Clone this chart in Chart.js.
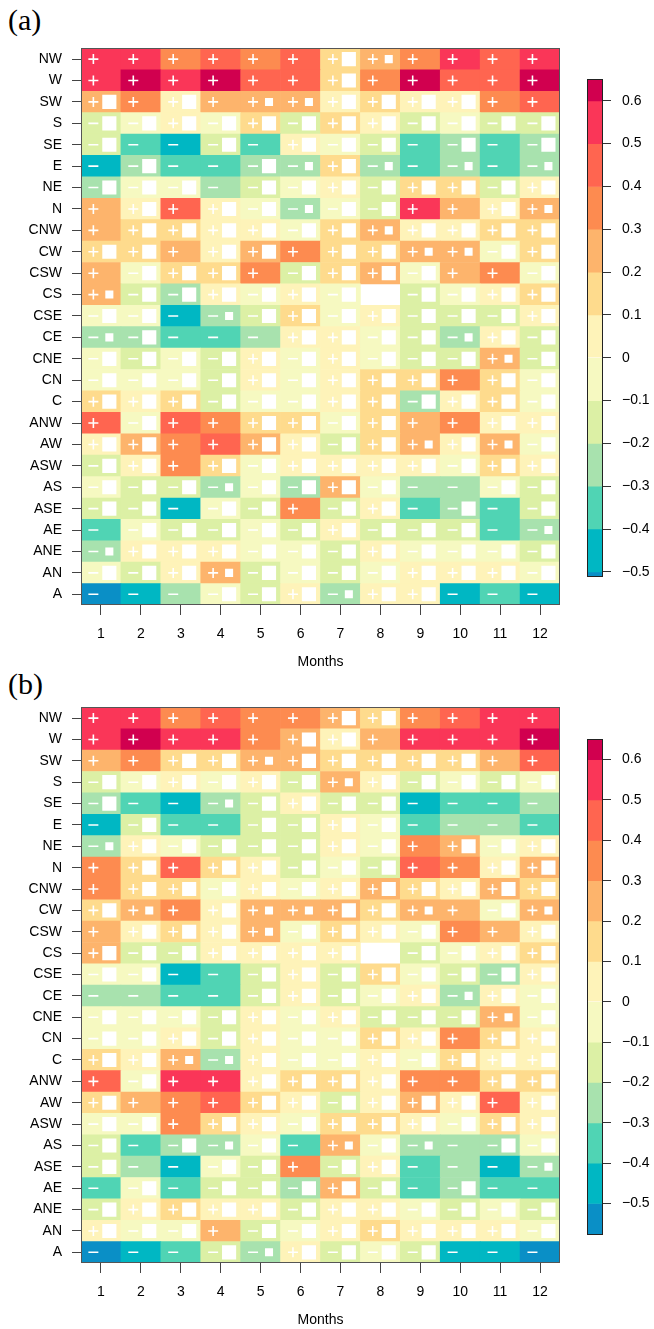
<!DOCTYPE html>
<html>
<head>
<meta charset="utf-8">
<script src="https://cdn.jsdelivr.net/npm/chart.js@4.4.0/dist/chart.umd.min.js"></script>
<style>
  html, body { margin: 0; padding: 0; background: #fff; overflow: hidden; }
  body { width: 654px; height: 1329px; position: relative; }
  canvas { position: absolute; }
  .tag { position: absolute; left: 8px; font-family: 'Liberation Serif', 'Times New Roman', serif; font-size: 30px; line-height: 1; color: #000; }
</style>
</head>
<body>
<div class="tag" style="top:5px">(a)</div>
<div class="tag" style="top:669px">(b)</div>
<canvas id="heatA" width="570" height="641" style="left:0;top:30px"></canvas>
<canvas id="barA" width="84" height="540" style="left:570px;top:60px"></canvas>
<canvas id="heatB" width="570" height="640" style="left:0;top:689px"></canvas>
<canvas id="barB" width="84" height="540" style="left:570px;top:720px"></canvas>
<script>
// weather types, top row first
const types = ['NW','W','SW','S','SE','E','NE','N','CNW','CW','CSW','CS','CSE','CE','CNE','CN','C','ANW','AW','ASW','AS','ASE','AE','ANE','AN','A'];
const months = [1,2,3,4,5,6,7,8,9,10,11,12];

// correlation values
const valuesA = [
  [0.55,0.55,0.35,0.45,0.35,0.45,0.15,0.25,0.35,0.55,0.45,0.55],
  [0.55,0.62,0.55,0.62,0.45,0.45,0.15,0.35,0.62,0.45,0.45,0.62],
  [0.25,0.35,0.05,0.25,0.25,0.25,0.05,0.15,0.05,0.05,0.35,0.45],
  [-0.15,-0.05,0.05,-0.05,0.15,-0.15,0.15,0.05,-0.15,-0.05,-0.15,-0.15],
  [-0.15,-0.35,-0.45,-0.15,-0.35,0.05,-0.05,-0.15,-0.35,-0.25,-0.35,-0.25],
  [-0.45,-0.25,-0.35,-0.35,-0.25,-0.25,0.15,-0.25,-0.35,-0.25,-0.35,-0.25],
  [-0.25,-0.05,-0.05,-0.25,-0.15,-0.05,0.05,-0.15,0.15,0.15,-0.15,0.05],
  [0.25,0.05,0.45,0.05,-0.05,-0.25,-0.05,-0.15,0.55,0.25,0.05,0.25],
  [0.25,0.15,0.15,0.05,0.05,-0.05,0.15,0.25,0.05,0.05,0.15,0.15],
  [0.15,0.15,0.25,0.05,0.25,0.35,0.15,0.15,0.25,0.25,-0.05,0.15],
  [0.25,-0.05,0.15,0.15,0.35,-0.15,0.15,0.25,-0.05,0.25,0.35,-0.05],
  [0.25,-0.15,-0.25,0.05,-0.05,0.05,-0.05,null,-0.15,-0.05,0.05,0.15],
  [-0.05,-0.05,-0.45,-0.25,-0.15,0.15,-0.05,0.05,-0.15,-0.15,-0.15,0.05],
  [-0.25,-0.25,-0.35,-0.35,-0.25,0.05,0.05,-0.05,-0.15,-0.25,0.05,-0.15],
  [-0.05,-0.15,-0.05,-0.15,0.05,-0.05,0.05,-0.05,-0.15,-0.15,0.25,-0.15],
  [-0.05,-0.05,-0.05,-0.15,0.05,-0.05,0.05,0.15,0.15,0.35,0.15,-0.05],
  [0.15,0.05,0.15,-0.15,-0.05,-0.05,0.05,0.15,-0.25,0.05,0.15,-0.05],
  [0.45,-0.05,0.45,0.35,0.15,0.15,-0.05,0.15,0.25,0.35,0.05,0.05],
  [0.05,0.25,0.35,0.45,0.25,0.05,-0.15,0.15,0.25,0.05,0.25,-0.05],
  [-0.15,0.05,0.35,0.15,-0.05,0.05,0.05,0.05,0.05,-0.05,0.15,0.05],
  [-0.05,-0.15,-0.15,-0.25,-0.05,-0.25,0.25,-0.05,-0.25,-0.25,-0.05,-0.15],
  [-0.15,-0.15,-0.45,-0.05,-0.15,0.35,-0.15,0.05,-0.35,-0.25,-0.35,-0.15],
  [-0.35,-0.05,-0.15,-0.15,-0.05,-0.15,0.05,-0.15,-0.15,-0.15,-0.35,-0.25],
  [-0.25,0.05,0.05,0.05,-0.05,-0.05,-0.15,0.05,-0.05,-0.05,-0.05,-0.15],
  [-0.05,-0.15,0.05,0.25,-0.15,-0.05,-0.15,-0.05,0.05,0.05,0.05,-0.05],
  [-0.52,-0.45,-0.25,-0.05,-0.15,0.05,-0.25,0.05,0.05,-0.45,-0.35,-0.45]
];
// significance: 0 = significant, 1 = small square, 2 = large square
const signifA = [
  '000000210000','000000200000','202011222200','222222222222','200202220202',
  '020021210101','222022222222','020221220021','022222212222','220220221122',
  '022202222002','122222202222','220122222222','120002222122','222222222212',
  '222222222022','222222222222','020022220022','220022221212','220222222222',
  '222122220022','220220220202','022222222201','122222222222','222122222222',
  '000222122000'
];

// correlation values
const valuesB = [
  [0.55,0.55,0.35,0.45,0.35,0.35,0.25,0.15,0.35,0.45,0.55,0.55],
  [0.55,0.62,0.55,0.55,0.35,0.25,0.05,0.25,0.55,0.55,0.55,0.62],
  [0.25,0.35,0.15,0.15,0.25,0.25,0.15,0.15,0.15,0.15,0.25,0.45],
  [-0.15,-0.05,0.05,-0.05,0.05,-0.15,0.25,0.05,-0.15,-0.05,-0.15,-0.05],
  [-0.25,-0.35,-0.45,-0.25,-0.15,0.05,-0.15,-0.15,-0.45,-0.35,-0.35,-0.25],
  [-0.45,-0.15,-0.35,-0.35,-0.15,-0.15,0.05,-0.05,-0.35,-0.25,-0.25,-0.35],
  [-0.25,0.05,-0.05,-0.15,-0.15,-0.15,0.05,-0.05,0.35,0.25,-0.05,0.05],
  [0.35,0.15,0.45,0.15,0.05,-0.15,-0.05,-0.15,0.45,0.35,0.05,0.25],
  [0.35,0.15,0.15,-0.05,0.05,-0.05,0.05,0.25,0.15,0.05,0.25,0.15],
  [0.15,0.25,0.35,0.05,0.25,0.25,0.25,0.15,0.25,0.25,-0.05,0.25],
  [0.25,0.05,0.15,0.05,0.25,-0.05,0.15,0.05,-0.05,0.35,0.25,0.05],
  [0.25,-0.15,-0.15,0.05,0.05,0.05,0.05,null,-0.15,-0.05,0.05,0.15],
  [-0.05,-0.05,-0.45,-0.35,-0.15,0.05,-0.15,0.15,-0.05,-0.15,-0.25,0.05],
  [-0.25,-0.25,-0.35,-0.35,-0.15,0.05,-0.15,-0.05,0.05,-0.25,0.05,-0.05],
  [-0.05,-0.05,-0.05,-0.15,0.05,-0.05,0.05,-0.15,-0.15,-0.15,0.25,-0.05],
  [-0.05,-0.05,0.05,-0.15,0.05,-0.05,-0.05,0.15,0.05,0.35,0.15,0.05],
  [0.15,0.05,0.25,-0.25,0.05,-0.05,-0.05,0.05,-0.05,0.15,0.05,0.05],
  [0.45,-0.05,0.55,0.55,0.05,0.15,0.15,0.05,0.35,0.35,0.15,0.15],
  [0.15,0.25,0.35,0.45,0.15,0.05,-0.15,0.05,0.25,0.05,0.45,0.05],
  [-0.05,-0.05,0.35,0.15,0.05,-0.05,0.15,0.15,0.05,-0.05,0.15,0.05],
  [-0.15,-0.35,-0.25,-0.25,-0.05,-0.35,0.25,-0.05,-0.25,-0.25,-0.25,-0.05],
  [-0.15,-0.25,-0.45,-0.05,-0.15,0.35,-0.15,0.05,-0.35,-0.25,-0.45,-0.25],
  [-0.35,-0.05,-0.35,-0.15,-0.15,-0.25,0.25,-0.15,-0.35,-0.25,-0.35,-0.35],
  [-0.15,0.05,0.15,0.05,0.05,-0.15,0.05,0.05,-0.05,-0.15,-0.05,-0.15],
  [0.05,-0.05,-0.05,0.25,-0.15,-0.05,0.05,0.15,0.05,0.05,0.05,-0.05],
  [-0.55,-0.45,-0.35,-0.15,-0.25,0.05,-0.15,-0.05,-0.15,-0.45,-0.45,-0.55]
];
const signifB = [
  '000000220000','000002200000','002212222200','222222122222','200122220000',
  '020022220000','122222220222','020222220022','022222222222','210211221021',
  '022212222002','222222202222','220022222222','000022222122','222222222212',
  '222222222022','221122222222','020022220022','200022222202','220222222222',
  '202120121022','200220220001','020222220200','222222222222','222022222222',
  '000212222000'
];

// colour key
const breaks = [-0.5,-0.4,-0.3,-0.2,-0.1,0,0.1,0.2,0.3,0.4,0.5,0.6];
const palette = ['#0a8fc6','#00b7c3','#50d4b4','#a8e2ae','#dcf0a5','#f6f9c1','#fef3b9','#fedb8d','#fdb46c','#fd8b50','#ff6550','#fa3658','#d1004f'];
const keyTicks = [-0.5,-0.4,-0.3,-0.2,-0.1,0,0.1,0.2,0.3,0.4,0.5,0.6];

Chart.defaults.font.family = "'Liberation Sans', Arial, sans-serif";
Chart.defaults.color = '#000';

function cellColor(v) {
  let k = 0;
  while (k < breaks.length && v >= breaks[k]) k++;
  return palette[k];
}

function frame(color) {
  return {
    id: 'frame',
    afterDraw(chart) {
      const a = chart.chartArea, ctx = chart.ctx;
      ctx.save();
      ctx.strokeStyle = color;
      ctx.lineWidth = 1;
      ctx.strokeRect(Math.round(a.left) + 0.5, Math.round(a.top) + 0.5,
        Math.round(a.right - a.left) - 1, Math.round(a.bottom - a.top) - 1);
      ctx.restore();
    }
  };
}

function heatmap(id, values, signif) {
  const cells = [], colors = [], plus = [], minus = [], bigSq = [], smallSq = [];
  values.forEach((row, r) => {
    const y = types.length - r - 0.5;
    row.forEach((v, c) => {
      if (v === null) return;
      const m = months[c];
      cells.push({x: m, y: [y - 0.5, y + 0.5]});
      colors.push(cellColor(v));
      (v > 0 ? plus : minus).push({x: m - 0.19, y: y});
      const s = signif[r][c];
      if (s === '2') bigSq.push({x: m + 0.21, y: y});
      else if (s === '1') smallSq.push({x: m + 0.21, y: y});
    });
  });

  const pts = (data, style, radius, extra) => Object.assign({
    type: 'scatter', data: data, pointStyle: style, pointRadius: radius,
    pointBorderColor: '#fff', borderColor: '#fff', pointBackgroundColor: '#fff',
    pointBorderWidth: 1.6, order: 1
  }, extra || {});

  new Chart(document.getElementById(id), {
    type: 'bar',
    data: {
      datasets: [
        { data: cells, backgroundColor: colors, borderWidth: 0, barPercentage: 1, categoryPercentage: 1, order: 5 },
        pts(plus, 'cross', 5),
        pts(minus, 'line', 5),
        pts(bigSq, 'rect', 10, { pointBorderWidth: 0 }),
        pts(smallSq, 'rect', 5.7, { pointBorderWidth: 0 })
      ]
    },
    options: {
      responsive: false,
      animation: false,
      events: [],
      layout: { padding: { top: 17, right: 8, left: 0, bottom: 0 } },
      plugins: { legend: { display: false }, tooltip: { enabled: false } },
      scales: {
        x: {
          type: 'linear', min: 0.5, max: 12.5, offset: false,
          afterBuildTicks: s => { s.ticks = months.map(m => ({ value: m })); },
          afterFit: s => { s.height = 66; },
          grid: { offset: false, drawOnChartArea: false, drawTicks: true, tickLength: 10, color: '#444' },
          border: { display: false },
          ticks: { font: { size: 14 }, padding: 11, maxRotation: 0, autoSkip: false, callback: v => String(v) },
          title: { display: true, text: 'Months', font: { size: 14 }, padding: { top: 0, bottom: 0 } }
        },
        y: {
          type: 'linear', min: 0, max: types.length, beginAtZero: false,
          afterBuildTicks: s => { s.ticks = types.map((t, i) => ({ value: i + 0.5 })); },
          afterFit: s => { s.width = 81; },
          grid: { drawOnChartArea: false, drawTicks: true, tickLength: 9, color: '#444' },
          border: { display: false },
          ticks: { font: { size: 14 }, padding: 10, autoSkip: false,
            callback: v => types[types.length - 1 - Math.floor(v)] }
        }
      }
    },
    plugins: [frame('#555')]
  });
}

function colorKey(id, lo, hi, padTop, padBottom) {
  const edges = [lo].concat(breaks, [hi]);
  const segs = palette.map((c, i) => ({ x: 'k', y: [edges[i], edges[i + 1]] }));
  new Chart(document.getElementById(id), {
    type: 'bar',
    data: {
      labels: ['k'],
      datasets: [{ data: segs, backgroundColor: palette, borderWidth: 0, barPercentage: 1, categoryPercentage: 1 }]
    },
    options: {
      responsive: false,
      animation: false,
      events: [],
      layout: { padding: { top: padTop, bottom: padBottom, left: 17, right: 0 } },
      plugins: { legend: { display: false }, tooltip: { enabled: false } },
      scales: {
        x: { display: false },
        y: {
          position: 'right', min: lo, max: hi, beginAtZero: false,
          afterBuildTicks: s => { s.ticks = keyTicks.map(v => ({ value: v })); },
          afterFit: s => { s.width = 51; },
          grid: { drawOnChartArea: false, drawTicks: true, tickLength: 8, color: '#333' },
          border: { display: false },
          ticks: { font: { size: 14 }, padding: 11, autoSkip: false,
            callback: v => Math.abs(v) < 1e-9 ? '0' : v.toFixed(1).replace('-', '\u2212') }
        }
      }
    },
    plugins: [frame('#222')]
  });
}

heatmap('heatA', valuesA, signifA);
heatmap('heatB', valuesB, signifB);
colorKey('barA', -0.512, 0.65, 14, 23);
colorKey('barB', -0.578, 0.65, 13, 25);
</script>
</body>
</html>
